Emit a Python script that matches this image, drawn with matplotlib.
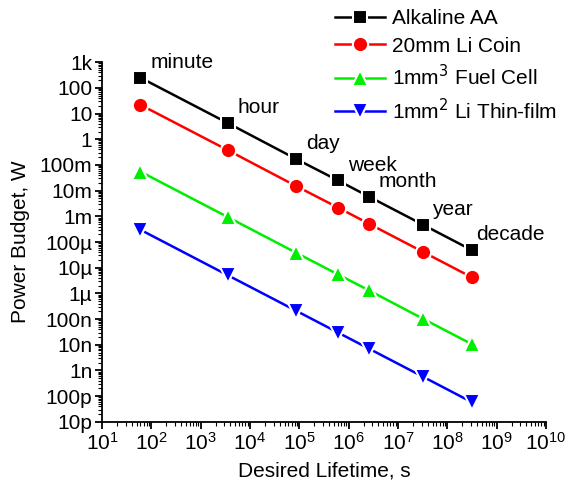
import matplotlib
matplotlib.use("Agg")
import matplotlib.pyplot as plt
from matplotlib.ticker import LogLocator, FixedLocator, NullFormatter

plt.rcParams['font.family'] = ['Liberation Sans', 'DejaVu Sans']

lifetime = [60, 3600, 86400, 604800, 2.6e6, 3.15e7, 3.15e8]
period_names = ["minute", "hour", "day", "week", "month", "year", "decade"]

alkaline = [250, 4.2, 0.17, 0.025, 0.0058, 4.8e-4, 4.8e-5]
li_coin = [22, 0.37, 0.015, 2.2e-3, 5.1e-4, 4.2e-5, 4.2e-6]
fuel_cell = [0.055, 9.2e-4, 3.8e-5, 5.5e-6, 1.3e-6, 1.05e-7, 1.05e-8]
thin_film = [3.0e-4, 5.0e-6, 2.1e-7, 3.0e-8, 7.0e-9, 5.8e-10, 5.8e-11]

y_ticks = [1e-11, 1e-10, 1e-9, 1e-8, 1e-7, 1e-6, 1e-5, 1e-4, 1e-3, 1e-2, 1e-1, 1, 10, 100, 1e3]
y_labels = ["10p", "100p", "1n", "10n", "100n", "1\u00b5", "10\u00b5", "100\u00b5",
            "1m", "10m", "100m", "1", "10", "100", "1k"]

fig = plt.figure(figsize=(5.67, 4.86), dpi=100)
ax = fig.add_axes([0.18, 0.132, 0.783, 0.74])

series = [
    (alkaline, 'k', 's', 10, "Alkaline AA"),
    (li_coin, '#ff0000', 'o', 11, "20mm Li Coin"),
    (fuel_cell, '#00ee00', '^', 12, "1mm$^3$ Fuel Cell"),
    (thin_film, '#0000ff', 'v', 12, "1mm$^2$ Li Thin-film"),
]
handles = []
for vals, col, mk, ms, lab in series:
    h, = ax.plot(lifetime, vals, color=col, marker=mk, markersize=ms, lw=1.8,
                 markeredgecolor='white', markeredgewidth=1.5, label=lab)
    handles.append(h)

for x, y, name in zip(lifetime, alkaline, period_names):
    dx = 3 if name == "decade" else 7
    ax.annotate(name, (x, y), xytext=(dx, 11), textcoords='offset points',
                ha='left', va='center', fontsize=15)

ax.set_xscale('log')
ax.set_yscale('log')
ax.set_xlim(10, 1e10)
ax.set_ylim(1e-11, 1e3)

ax.xaxis.set_major_locator(LogLocator(base=10, numticks=20))
ax.xaxis.set_minor_locator(LogLocator(base=10, subs=range(2, 10), numticks=20))
ax.xaxis.set_minor_formatter(NullFormatter())
ax.yaxis.set_major_locator(FixedLocator(y_ticks))
ax.set_yticklabels(y_labels)
ax.yaxis.set_minor_locator(LogLocator(base=10, subs=range(2, 10), numticks=30))
ax.yaxis.set_minor_formatter(NullFormatter())

ax.spines['top'].set_visible(False)
ax.spines['right'].set_visible(False)
ax.spines['left'].set_linewidth(1.3)
ax.spines['bottom'].set_linewidth(1.3)
ax.tick_params(which='major', direction='out', length=5, width=1.3, labelsize=15, pad=2)
ax.tick_params(which='minor', direction='out', length=3, width=0.8)

ax.set_xlabel("Desired Lifetime, s", fontsize=15, labelpad=6)
ax.set_ylabel("Power Budget, W", fontsize=15, labelpad=7)

fig.legend(handles=handles, loc='upper left', bbox_to_anchor=(0.575, 1.0),
           frameon=False, fontsize=15, handlelength=2.4, labelspacing=0.4,
           handletextpad=0.3, borderaxespad=0.05)

fig.savefig("out.png", dpi=100)
